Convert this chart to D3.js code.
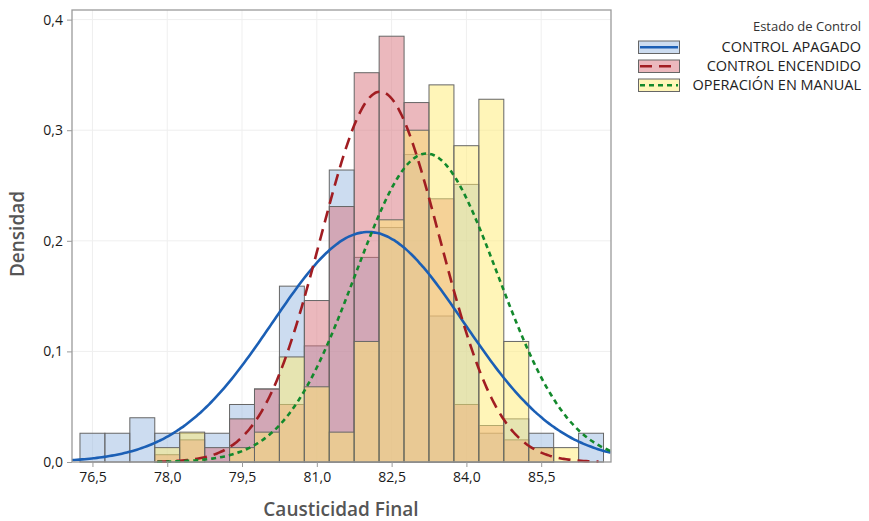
<!DOCTYPE html>
<html>
<head>
<meta charset="utf-8">
<script src="https://cdn.jsdelivr.net/npm/d3@7"></script>
<style>
  body { margin: 0; background: #fff; }
  text { font-family: "Open Sans", sans-serif; }
</style>
</head>
<body>
<div class="svg"></div>
<script>
// bin centres (bin width 0,5)
const binCenters = [76.5, 77.0, 77.5, 78.0, 78.5, 79.0, 79.5, 80.0, 80.5, 81.0, 81.5,
                    82.0, 82.5, 83.0, 83.5, 84.0, 84.5, 85.0, 85.5, 86.0, 86.5];
const binWidth = 0.5;

const apagado   = [0.026, 0.026, 0.040, 0.026, 0.026, 0.026, 0.052, 0.066, 0.159, 0.105, 0.264,
                   0.185, 0.212, 0.278, 0.132, 0.251, 0.026, 0.039, 0.026, 0, 0.026];
const encendido = [0, 0, 0, 0.0066, 0.020, 0.013, 0.039, 0.066, 0.052, 0.146, 0.231,
                   0.352, 0.385, 0.325, 0.238, 0.052, 0.033, 0.020, 0.013, 0, 0];
const manual    = [0, 0, 0, 0.013, 0.027, 0, 0.013, 0.027, 0.095, 0.068, 0.027,
                   0.109, 0.219, 0.300, 0.341, 0.286, 0.328, 0.109, 0.013, 0.013, 0];

// fitted normal curves: mean, std dev, drawn range
const seriesNames = ["CONTROL APAGADO", "CONTROL ENCENDIDO", "OPERACIÓN EN MANUAL"];
const fitMean  = [82.03, 82.27, 83.2];
const fitSd    = [1.918, 1.191, 1.43];
const fitFrom  = [76.09, 77.8, 77.8];
const fitTo    = [86.9, 86.65, 86.9];

const xTicks = [76.5, 78.0, 79.5, 81.0, 82.5, 84.0, 85.5];
const yTicks = [0, 0.1, 0.2, 0.3, 0.4];

const fills = ["#99b9e1", "#d7717b", "#ffeb71"];
const lineColors = ["#1b5fb5", "#a11d22", "#13892c"];
const dashes = [null, "12,7", "5,4"];

const width = 869, height = 521;
const pLeft = 72, pRight = 611, pTop = 10, pBottom = 462;

let svg = d3.select('.svg').append('svg').attr('width', width).attr('height', height);

let x = d3.scaleLinear().domain([76.09, 86.9]).range([pLeft, pRight]);
let y = d3.scaleLinear().domain([0, 0.4087]).range([pBottom, pTop]);

// grid
svg.append('g').selectAll('line').data(xTicks).enter().append('line')
    .attr('x1', d => x(d)).attr('x2', d => x(d))
    .attr('y1', pTop).attr('y2', pBottom)
    .attr('stroke', '#efefef').attr('stroke-width', 1);
svg.append('g').selectAll('line').data(yTicks).enter().append('line')
    .attr('x1', pLeft).attr('x2', pRight)
    .attr('y1', d => y(d)).attr('y2', d => y(d))
    .attr('stroke', '#efefef').attr('stroke-width', 1);

// histograms
let groups = [apagado, encendido, manual];
groups.forEach((vals, s) => {
    svg.append('g').selectAll('rect')
        .data(vals.map((v, i) => ({c: binCenters[i], v: v})).filter(d => d.v > 0))
        .enter().append('rect')
        .attr('x', d => x(d.c - binWidth / 2))
        .attr('y', d => y(d.v))
        .attr('width', d => x(d.c + binWidth / 2) - x(d.c - binWidth / 2))
        .attr('height', d => pBottom - y(d.v))
        .attr('fill', fills[s]).attr('fill-opacity', 0.5)
        .attr('stroke', '#666').attr('stroke-width', 1);
});

// fitted curves
function normal(v, m, sd) {
    return Math.exp(-0.5 * ((v - m) / sd) ** 2) / (sd * Math.sqrt(2 * Math.PI));
}
let line = d3.line().x(d => x(d[0])).y(d => y(d[1])).curve(d3.curveBasis);
seriesNames.forEach((n, s) => {
    let pts = d3.range(fitFrom[s], fitTo[s] + 0.001, 0.05).map(v => [v, normal(v, fitMean[s], fitSd[s])]);
    svg.append('path').datum(pts)
        .attr('d', line)
        .attr('fill', 'none')
        .attr('stroke', lineColors[s])
        .attr('stroke-width', 2.6)
        .attr('stroke-dasharray', dashes[s]);
});

// frame
svg.append('rect').attr('x', pLeft).attr('y', pTop)
    .attr('width', pRight - pLeft).attr('height', pBottom - pTop)
    .attr('fill', 'none').attr('stroke', '#9a9a9a').attr('stroke-width', 1.3);

// axes
let axisX = d3.axisBottom(x).tickValues(xTicks).tickSize(5).tickPadding(5)
    .tickFormat(d => d3.format('.1f')(d).replace('.', ','));
let axisY = d3.axisLeft(y).tickValues(yTicks).tickSize(5).tickPadding(4)
    .tickFormat(d => d3.format('.1f')(d).replace('.', ','));
let gx = svg.append('g').attr('transform', 'translate(0,' + pBottom + ')').call(axisX);
let gy = svg.append('g').attr('transform', 'translate(' + pLeft + ',0)').call(axisY);
[gx, gy].forEach(g => {
    g.select('.domain').remove();
    g.selectAll('.tick line').attr('stroke', '#9a9a9a');
    g.selectAll('.tick text').attr('fill', '#1a1a1a').style('font-size', '14px')
        .style('font-weight', 500)
        .style('font-family', '"Open Sans", sans-serif');
});

svg.append('text').attr('x', 341).attr('y', 516).attr('text-anchor', 'middle')
    .attr('fill', '#555').style('font-size', '19px').style('font-weight', 600)
    .text('Causticidad Final');
svg.append('text').attr('transform', 'translate(24,234) rotate(-90)').attr('text-anchor', 'middle')
    .attr('fill', '#555').style('font-size', '19px').style('font-weight', 600)
    .text('Densidad');

// legend
let lg = svg.append('g');
lg.append('text').attr('x', 861).attr('y', 31).attr('text-anchor', 'end')
    .attr('fill', '#333').style('font-size', '13px').text('Estado de Control');
seriesNames.forEach((n, s) => {
    let yy = 41 + s * 19;
    lg.append('rect').attr('x', 638.5).attr('y', yy).attr('width', 41).attr('height', 12.5)
        .attr('fill', fills[s]).attr('fill-opacity', 0.5)
        .attr('stroke', '#666').attr('stroke-width', 1);
    lg.append('line').attr('x1', 640).attr('x2', 678).attr('y1', yy + 6.25).attr('y2', yy + 6.25)
        .attr('stroke', lineColors[s]).attr('stroke-width', 2.4)
        .attr('stroke-dasharray', dashes[s]);
    lg.append('text').attr('x', 861).attr('y', yy + 11).attr('text-anchor', 'end')
        .attr('fill', '#222').style('font-size', '14.5px').text(n);
});
</script>
</body>
</html>
